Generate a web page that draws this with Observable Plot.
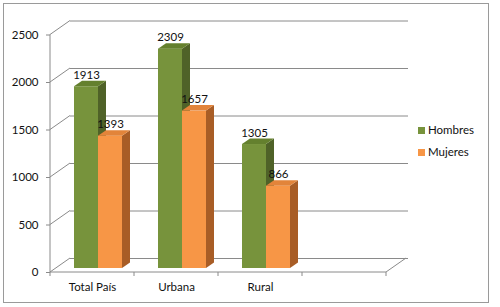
<!DOCTYPE html>
<html>
<head>
<meta charset="utf-8">
<script src="https://cdn.jsdelivr.net/npm/d3@7"></script>
<script src="https://cdn.jsdelivr.net/npm/@observablehq/plot@0.6"></script>
<style>
  html, body { margin: 0; padding: 0; background: #fff; }
  body { width: 500px; height: 307px; position: relative; overflow: hidden; font-family: Lato, "Open Sans", sans-serif; }
  #border { position: absolute; left: 3px; top: 3px; width: 486px; height: 300px; border: 1px solid #9a9a9a; box-sizing: border-box; }
  #chart { position: absolute; left: 0; top: 0; }
  .legend { position: absolute; left: 418px; font-size: 11.5px; color: #111; line-height: 12px; }
  .legend span.sw { display: inline-block; width: 7px; height: 7px; margin-right: 3px; vertical-align: 0px; }
</style>
</head>
<body>
<div id="border"></div>
<div id="chart"></div>
<div class="legend" id="leg1" style="top:124px"><span class="sw" style="background:#77933C"></span>Hombres</div>
<div class="legend" id="leg2" style="top:146px"><span class="sw" style="background:#F79646"></span>Mujeres</div>
<script>
// ---- data ----
const categories = ["Total País", "Urbana", "Rural"];
const emptySlot = ["·vacío·"];            // Excel leaves a fourth, empty category slot
const series = ["Hombres", "Mujeres"];
const hombres = [1913, 2309, 1305];
const mujeres = [1393, 1657, 866];
const yTicks = [0, 500, 1000, 1500, 2000, 2500];

const colors = {
  Hombres: {front: "#77933C", top: "#64802E", side: "#4F6228"},
  Mujeres: {front: "#F79646", top: "#E2843A", side: "#A85D26"}
};

const xDomain = [...categories, ...emptySlot];
const rows = [];
categories.forEach((c, i) => {
  rows.push({cat: c, serie: "Hombres", value: hombres[i]});
  rows.push({cat: c, serie: "Mujeres", value: mujeres[i]});
});

// 3D geometry (pixel styling)
const WALL_DX = 20, WALL_DY = -14;   // depth of the chart box
const BAR_DX = 6, BAR_DY = -4;        // bars sit a little behind the front plane
const BAR_DEPTH_X = 8, BAR_DEPTH_Y = -5.5;
const insets = {Hombres: [18, 42], Mujeres: [42, 18]};
const gridColor = "#8a8a8a";

function walls(index, scales, values, dim) {
  const g = d3.create("svg:g").attr("fill", "none").attr("stroke", gridColor).attr("stroke-width", 1);
  const xa = dim.marginLeft, xb = dim.width - dim.marginRight;
  const y0 = scales.y(0);
  yTicks.forEach(t => {
    const y = scales.y(t);
    g.append("line").attr("x1", xa).attr("y1", y).attr("x2", xa + WALL_DX).attr("y2", y + WALL_DY);
  });
  g.append("line").attr("x1", xb).attr("y1", y0).attr("x2", xb + WALL_DX).attr("y2", y0 + WALL_DY);
  // front floor edge & y axis line
  g.append("line").attr("x1", xa).attr("y1", y0).attr("x2", xb).attr("y2", y0);
  g.append("line").attr("x1", xa).attr("y1", scales.y(2500)).attr("x2", xa).attr("y2", y0);
  // x tick marks at category boundaries
  const bounds = xDomain.map(c => scales.x(c)).concat([xb]);
  bounds.forEach(x => {
    g.append("line").attr("x1", x).attr("y1", y0).attr("x2", x).attr("y2", y0 + 4);
  });
  return g.node();
}

function faces(serie, vals) {
  return (index, scales, values, dim) => {
    const g = d3.create("svg:g");
    const bw = scales.x.bandwidth ? scales.x.bandwidth() : 84;
    const [il, ir] = insets[serie];
    categories.forEach((c, i) => {
      const x0 = scales.x(c) + il + BAR_DX;
      const x1 = scales.x(c) + bw - ir + BAR_DX;
      const yb = scales.y(0) + BAR_DY;
      const yt = scales.y(vals[i]) + BAR_DY;
      const side = [[x1, yb], [x1, yt], [x1 + BAR_DEPTH_X, yt + BAR_DEPTH_Y], [x1 + BAR_DEPTH_X, yb + BAR_DEPTH_Y]];
      const top = [[x0, yt], [x1, yt], [x1 + BAR_DEPTH_X, yt + BAR_DEPTH_Y], [x0 + BAR_DEPTH_X, yt + BAR_DEPTH_Y]];
      g.append("polygon").attr("points", side.map(p => p.join(",")).join(" ")).attr("fill", colors[serie].side);
      g.append("polygon").attr("points", top.map(p => p.join(",")).join(" ")).attr("fill", colors[serie].top);
    });
    return g.node();
  };
}

function barMarks(serie, vals) {
  const data = rows.filter(d => d.serie === serie);
  return [
    Plot.barY(data, {
      x: "cat", y: "value", fill: colors[serie].front,
      insetLeft: insets[serie][0], insetRight: insets[serie][1], dx: BAR_DX, dy: BAR_DY
    }),
    faces(serie, vals)
  ];
}

const chart = Plot.plot({
  width: 500,
  height: 307,
  marginLeft: 50,
  marginRight: 114,
  marginTop: 34.5,
  marginBottom: 35,
  x: {type: "band", domain: xDomain, padding: 0, axis: null, label: null},
  y: {domain: [0, 2500], axis: null, label: null},
  style: {fontFamily: "Lato, 'Open Sans', sans-serif", fontSize: "11.5px", color: "#111", background: "transparent", overflow: "visible"},
  marks: [
    Plot.ruleY(yTicks, {stroke: gridColor, dx: WALL_DX, dy: WALL_DY, insetRight: -2}),
    walls,
    Plot.axisY({ticks: yTicks, tickSize: 4, tickPadding: 8, stroke: gridColor, fill: "#111", fontSize: 11.5,
      label: null, tickFormat: d => String(d)}),
    Plot.axisX({tickSize: 0, tickPadding: 10, fill: "#111", fontSize: 11.5, label: null,
      tickFormat: d => categories.includes(d) ? d : ""}),
    ...barMarks("Hombres", hombres),
    ...barMarks("Mujeres", mujeres),
    Plot.text(rows.filter(d => d.serie === "Hombres"), {x: "cat", y: "value", text: d => String(d.value),
      dx: -6, dy: -12, lineAnchor: "bottom", fill: "#111", fontSize: 11.5}),
    Plot.text(rows.filter(d => d.serie === "Mujeres"), {x: "cat", y: "value", text: d => String(d.value),
      dx: 18, dy: -12, lineAnchor: "bottom", fill: "#111", fontSize: 11.5})
  ]
});
document.getElementById("chart").appendChild(chart);
</script>
</body>
</html>
